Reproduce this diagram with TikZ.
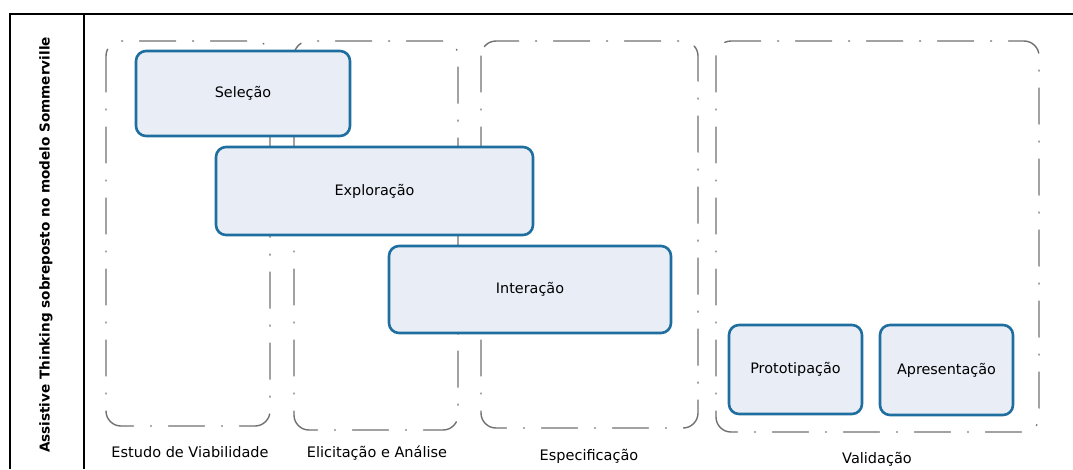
\documentclass[tikz,border=0pt]{standalone}
\usepackage{fontspec}
\setmainfont{DejaVu Sans}
\definecolor{phaseline}{RGB}{112,112,112}
\definecolor{boxblue}{RGB}{30,110,160}
\definecolor{boxfill}{RGB}{233,237,246}
\begin{document}
\begin{tikzpicture}[x=1pt,y=-1pt,
  phase/.style={draw=phaseline,line width=1.4pt,rounded corners=15pt,
    dash pattern=on 36pt off 17pt on 1pt off 17pt,line cap=round},
  stepbox/.style={draw=boxblue,fill=boxfill,line width=2.6pt,rounded corners=10pt,
    font=\fontsize{14.4}{16}\selectfont},
  phaselabel/.style={font=\fontsize{14.5}{16}\selectfont,anchor=center},
  frameline/.style={draw=black,line width=1.2pt}]
\useasboundingbox (0,0) rectangle (1073,469);
% frame
\coordinate (ftl) at (10,14);
\coordinate (ftr) at (1073,14);
\coordinate (fbl) at (10,469);
\coordinate (fml) at (84,14);
\coordinate (fmb) at (84,469);
\draw[frameline] (fbl) -- (ftl) -- (ftr);
\draw[frameline] (fml) -- (fmb);
\node[rotate=90,font=\bfseries\fontsize{13.6}{15}\selectfont] (title) at (46,245) {Assistive Thinking sobreposto no modelo Sommerville};
% phases
\draw[phase] (106,41) rectangle (270,426);
\draw[phase] (294,41) rectangle (458,430);
\draw[phase] (481,41) rectangle (698,428);
\draw[phase] (716,41) rectangle (1039,432);
\node[phaselabel] (l1) at (190,452) {Estudo de Viabilidade};
\node[phaselabel] (l2) at (377,453) {Elicitação e Análise};
\node[phaselabel] (l3) at (589,456) {Especificação};
\node[phaselabel] (l4) at (877,459) {Validação};
% steps
\node[stepbox,minimum width=214pt,minimum height=85pt] (sel) at (243,93.5) {Seleção};
\node[stepbox,minimum width=317pt,minimum height=88pt] (exp) at (374.5,191) {Exploração};
\node[stepbox,minimum width=282pt,minimum height=87pt] (int) at (530,289.5) {Interação};
\node[stepbox,minimum width=133pt,minimum height=89pt] (pro) at (795.5,369.5) {Prototipação};
\node[stepbox,minimum width=133pt,minimum height=90pt] (apr) at (946.5,370) {Apresentação};
\end{tikzpicture}
\end{document}
